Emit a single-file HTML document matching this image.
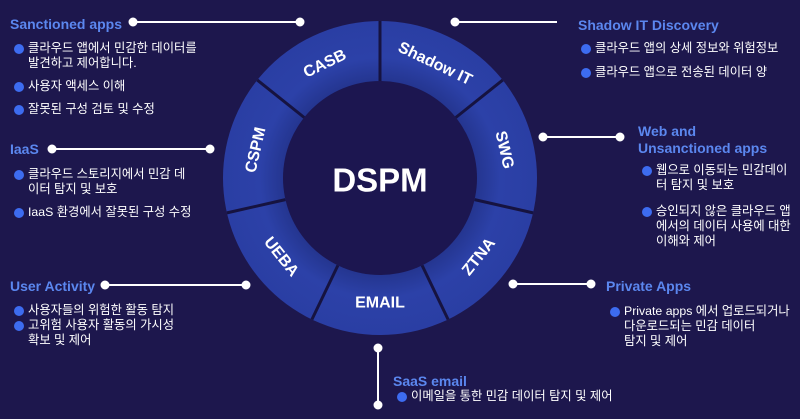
<!DOCTYPE html>
<html><head><meta charset="utf-8"><style>
html,body{margin:0;padding:0;background:#1d174d;}
body{width:800px;height:419px;overflow:hidden;position:relative;font-family:"Liberation Sans","Noto Sans CJK KR",sans-serif;}
.h{position:absolute;color:#5b87ef;font-weight:bold;font-size:14px;line-height:17px;white-space:nowrap;}
.b{position:absolute;color:#fff;font-size:12.3px;line-height:15px;white-space:nowrap;}
.b::before{content:"";position:absolute;left:-14px;top:2.5px;width:10px;height:10px;border-radius:50%;background:#3d6cf0;}
</style></head><body>
<svg width="800" height="419" style="position:absolute;left:0;top:0">
<defs><radialGradient id="g" cx="380" cy="178" r="160" gradientUnits="userSpaceOnUse">
<stop offset="0.6" stop-color="#24358f"/><stop offset="0.75" stop-color="#2c41a8"/><stop offset="1" stop-color="#2a3ea3"/></radialGradient></defs>
<circle cx="380" cy="178" r="157" fill="url(#g)"/>
<circle cx="380" cy="178" r="97" fill="#1c1650"/>
<g stroke="#161340" stroke-width="3">
<line x1="380" y1="81" x2="380" y2="21"/>
<line x1="455.8" y1="117.5" x2="502.7" y2="80.1"/>
<line x1="474.6" y1="199.6" x2="533.1" y2="212.9"/>
<line x1="422.1" y1="265.4" x2="448.1" y2="319.5"/>
<line x1="337.9" y1="265.4" x2="311.9" y2="319.5"/>
<line x1="285.4" y1="199.6" x2="226.9" y2="212.9"/>
<line x1="304.2" y1="117.5" x2="257.3" y2="80.1"/>
</g>
<g fill="#fff" font-family="Liberation Sans,sans-serif" font-weight="bold" font-size="16" text-anchor="middle" dominant-baseline="central">
<text transform="translate(325,64) rotate(-25.7)">CASB</text>
<text transform="translate(435,64) rotate(25.7)">Shadow IT</text>
<text transform="translate(504,150) rotate(77.1)">SWG</text>
<text transform="translate(479,257) rotate(-51.4)">ZTNA</text>
<text transform="translate(380,303) rotate(0)">EMAIL</text>
<text transform="translate(281,257) rotate(51.4)">UEBA</text>
<text transform="translate(256,150) rotate(-77.1)">CSPM</text>
</g>
<text x="380" y="180" fill="#fff" font-family="Liberation Sans,sans-serif" font-weight="bold" font-size="33" text-anchor="middle" dominant-baseline="central">DSPM</text>
<g stroke="#fff" stroke-width="2" fill="#fff">
<line x1="133" y1="22" x2="300" y2="22"/><circle cx="133" cy="22" r="3.5"/><circle cx="300" cy="22" r="3.5"/>
<line x1="455" y1="22" x2="557" y2="22"/><circle cx="455" cy="22" r="3.5"/>
<line x1="52" y1="149" x2="210" y2="149"/><circle cx="52" cy="149" r="3.5"/><circle cx="210" cy="149" r="3.5"/>
<line x1="543" y1="137" x2="620" y2="137"/><circle cx="543" cy="137" r="3.5"/><circle cx="620" cy="137" r="3.5"/>
<line x1="105" y1="285" x2="246" y2="285"/><circle cx="105" cy="285" r="3.5"/><circle cx="246" cy="285" r="3.5"/>
<line x1="513" y1="284" x2="591" y2="284"/><circle cx="513" cy="284" r="3.5"/><circle cx="591" cy="284" r="3.5"/>
<line x1="378" y1="348" x2="378" y2="405"/><circle cx="378" cy="348" r="3.5"/><circle cx="378" cy="405" r="3.5"/>
</g>
</svg>
<div class="h" style="left:10px;top:16px">Sanctioned apps</div>
<div class="b" style="left:28px;top:41px">클라우드 앱에서 민감한 데이터를<br>발견하고 제어합니다.</div>
<div class="b" style="left:28px;top:79px">사용자 액세스 이해</div>
<div class="b" style="left:28px;top:102px">잘못된 구성 검토 및 수정</div>
<div class="h" style="left:10px;top:141px">IaaS</div>
<div class="b" style="left:28px;top:167px">클라우드 스토리지에서 민감 데<br>이터 탐지 및 보호</div>
<div class="b" style="left:28px;top:205px">IaaS 환경에서 잘못된 구성 수정</div>
<div class="h" style="left:578px;top:17px">Shadow IT Discovery</div>
<div class="b" style="left:595px;top:41px">클라우드 앱의 상세 정보와 위험정보</div>
<div class="b" style="left:595px;top:65px">클라우드 앱으로 전송된 데이터 양</div>
<div class="h" style="left:638px;top:123px">Web and<br>Unsanctioned apps</div>
<div class="b" style="left:656px;top:163px">웹으로 이동되는 민감데이<br>터 탐지 및 보호</div>
<div class="b" style="left:656px;top:204px">승인되지 않은 클라우드 앱<br>에서의 데이터 사용에 대한<br>이해와 제어</div>
<div class="h" style="left:10px;top:278px">User Activity</div>
<div class="b" style="left:28px;top:303px">사용자들의 위험한 활동 탐지</div>
<div class="b" style="left:28px;top:318px">고위험 사용자 활동의 가시성<br>확보 및 제어</div>
<div class="h" style="left:606px;top:278px">Private Apps</div>
<div class="b" style="left:624px;top:304px">Private apps 에서 업로드되거나<br>다운로드되는 민감 데이터<br>탐지 및 제어</div>
<div class="h" style="left:393px;top:373px">SaaS email</div>
<div class="b" style="left:411px;top:389px">이메일을 통한 민감 데이터 탐지 및 제어</div>
</body></html>
